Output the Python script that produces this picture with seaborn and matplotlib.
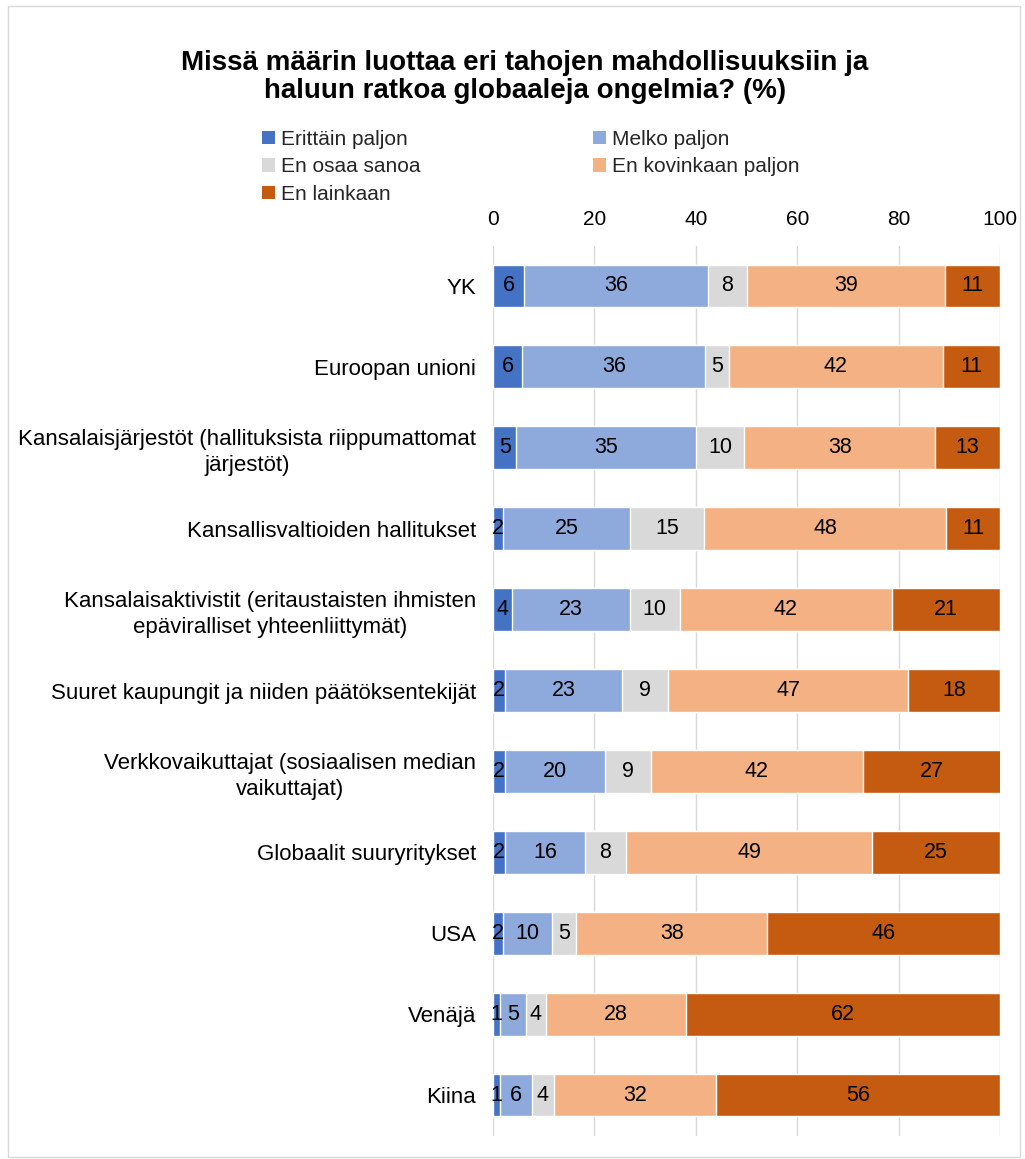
import numpy as np
import matplotlib.pyplot as plt
import seaborn as sns
from matplotlib.patches import Patch, Rectangle

categories = [
    "YK",
    "Euroopan unioni",
    "Kansalaisjärjestöt (hallituksista riippumattomat\njärjestöt)",
    "Kansallisvaltioiden hallitukset",
    "Kansalaisaktivistit (eritaustaisten ihmisten\nepäviralliset yhteenliittymät)",
    "Suuret kaupungit ja niiden päätöksentekijät",
    "Verkkovaikuttajat (sosiaalisen median\nvaikuttajat)",
    "Globaalit suuryritykset",
    "USA",
    "Venäjä",
    "Kiina",
]
series_names = ["Erittäin paljon", "Melko paljon", "En osaa sanoa",
                "En kovinkaan paljon", "En lainkaan"]
erittain = [6.1, 5.8, 4.6, 2.0, 3.7, 2.4, 2.4, 2.3, 2.0, 1.4, 1.4]
melko = [36.3, 36.1, 35.4, 25.0, 23.3, 23.0, 19.6, 15.9, 9.6, 5.1, 6.2]
en_osaa = [7.6, 4.6, 9.6, 14.6, 9.8, 9.2, 9.1, 8.0, 4.8, 3.9, 4.4]
en_kovin = [39.2, 42.3, 37.6, 47.8, 41.8, 47.3, 41.9, 48.6, 37.7, 27.6, 32.0]
en_lain = [10.8, 11.2, 12.8, 10.6, 21.4, 18.1, 27.1, 25.2, 45.9, 62.0, 56.0]
colors = ["#4472C4", "#8EA9DB", "#D9D9D9", "#F4B183", "#C55A11"]
xticks = [0, 20, 40, 60, 80, 100]

sns.set_style("white")
plt.rcParams["font.family"] = ["Liberation Sans", "DejaVu Sans"]

fig = plt.figure(figsize=(10.25, 11.59), dpi=100)
ax = fig.add_axes([493 / 1025, 1 - 1135.5 / 1159, 507 / 1025, 890 / 1159])

values = np.array([erittain, melko, en_osaa, en_kovin, en_lain])
cum = np.cumsum(values, axis=0)

# pinotut palkit: piirretään suurimmasta kumulatiivisesta pienimpään
for i in range(len(series_names) - 1, -1, -1):
    sns.barplot(x=cum[i], y=categories, color=colors[i], orient="h",
                width=0.53, saturation=1, ax=ax, zorder=2)

for i in range(len(series_names)):
    centers = cum[i] - values[i] / 2
    for j, (c, v) in enumerate(zip(centers, values[i])):
        ax.text(c, j, f"{v:.0f}", ha="center", va="center",
                fontsize=15.5, color="black", zorder=3)

ax.set_xlim(0, 100)
ax.set_xticks(xticks)
ax.xaxis.tick_top()
ax.tick_params(axis="x", length=0, pad=12, labelsize=15, labelcolor="black")
ax.tick_params(axis="y", length=0, pad=12, labelsize=16, labelcolor="black")
for lab in ax.get_yticklabels():
    lab.set_multialignment("center")
    lab.set_linespacing(1.3)
ax.set_xlabel("")
ax.set_ylabel("")
ax.grid(axis="x", color="#D9D9D9", lw=1)
ax.grid(axis="y", visible=False)
ax.set_axisbelow(True)
for s in ax.spines.values():
    s.set_visible(False)

fig.text(0.512, 1 - 77 / 1159,
         "Missä määrin luottaa eri tahojen mahdollisuuksiin ja\nhaluun ratkoa globaaleja ongelmia? (%)",
         ha="center", va="center", fontsize=20, fontweight="bold",
         linespacing=1.15, color="black")

order = [0, 2, 4, 1, 3]
handles = [Patch(facecolor=colors[k], edgecolor="none") for k in order]
labels = [series_names[k] for k in order]
fig.legend(handles, labels, ncol=2, loc="upper left",
           bbox_to_anchor=(262 / 1025, 1 - 130 / 1159), frameon=False,
           fontsize=15, handlelength=0.6, handleheight=0.6,
           handletextpad=0.3, columnspacing=8.3, labelspacing=0.4,
           borderpad=0, borderaxespad=0)

fig.patches.append(Rectangle((8 / 1025, 2 / 1159), 1012 / 1025, 1151 / 1159,
                             transform=fig.transFigure, fill=False,
                             edgecolor="#D9D9D9", lw=1))

fig.savefig("out.png", dpi=100)
